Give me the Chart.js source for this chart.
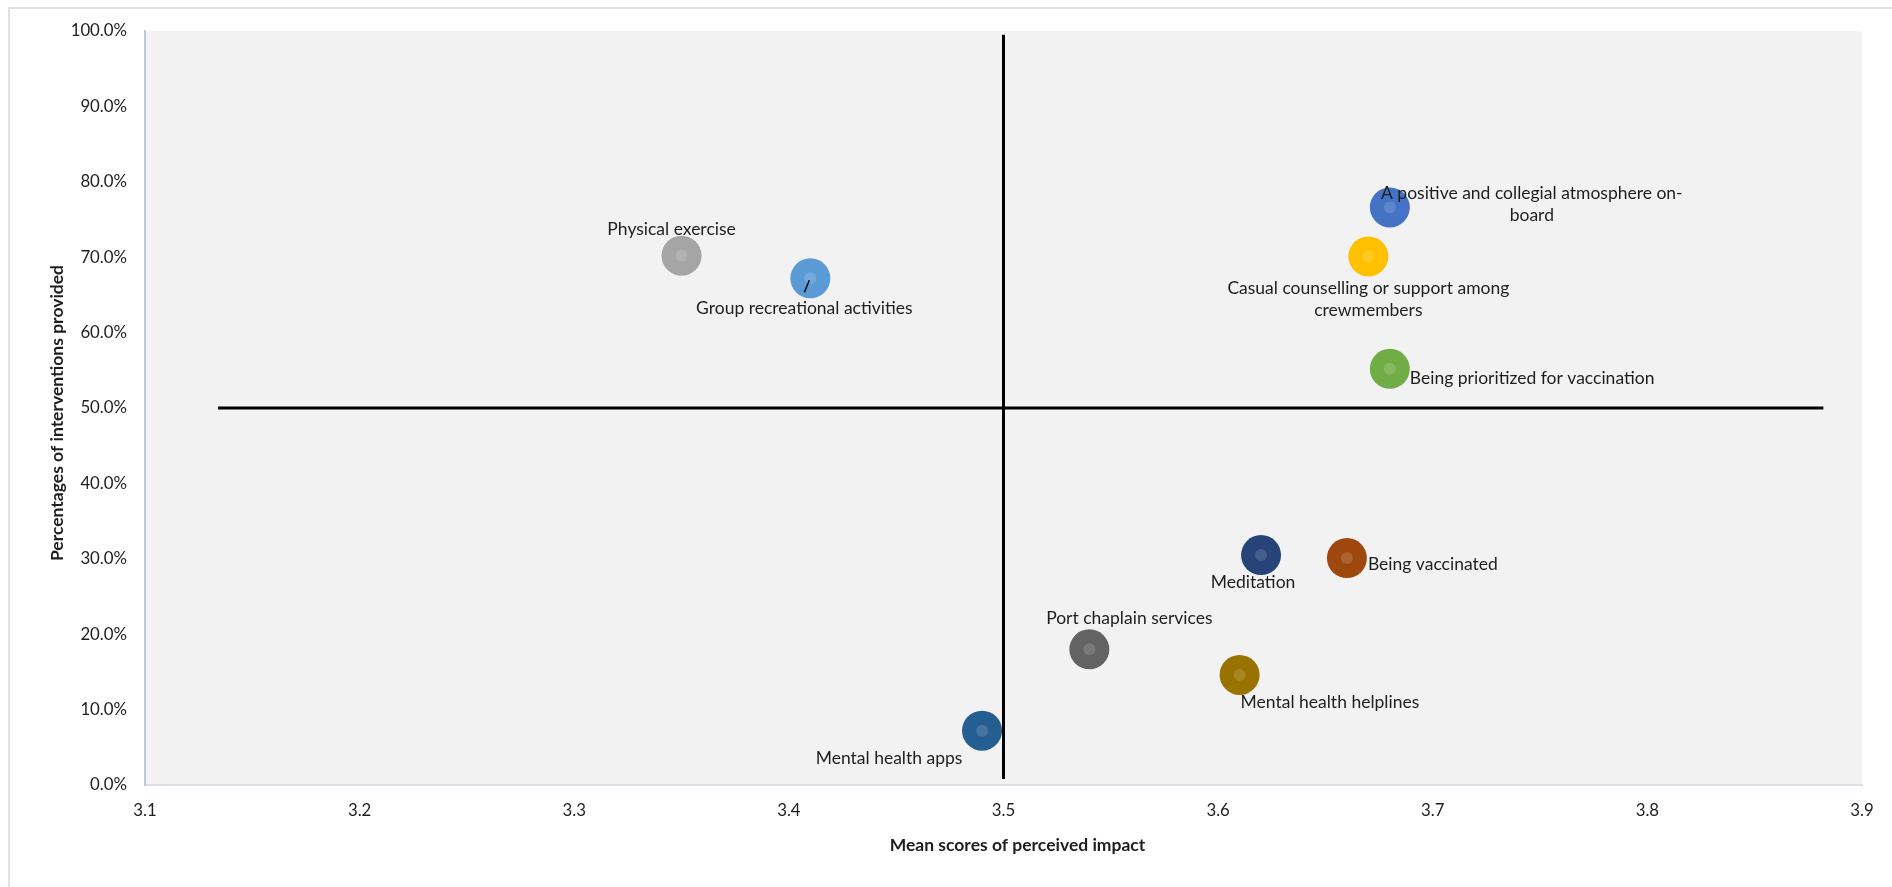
<!DOCTYPE html>
<html>
<head>
<meta charset="utf-8">
<title>Perceived impact vs interventions provided</title>
<script src="https://cdn.jsdelivr.net/npm/chart.js@4.4.1/dist/chart.umd.min.js"></script>
<style>
  html, body { margin: 0; padding: 0; background: #fff; overflow: hidden; }
  #frame {
    position: absolute; left: 8px; top: 7px; width: 1920px; height: 920px;
    border: 2px solid #dde2e8; box-sizing: border-box;
  }
  #chart { position: absolute; left: 0; top: 0; }
</style>
</head>
<body>
<div id="frame"></div>
<canvas id="chart" width="1892" height="887"></canvas>
<script>
  "use strict";

  // interventions (labels shown next to each bubble)
  const interventions = [
    "Physical exercise",
    "Group recreational activities",
    "A positive and collegial atmosphere on-\nboard",
    "Casual counselling or support among\ncrewmembers",
    "Being prioritized for vaccination",
    "Meditation",
    "Being vaccinated",
    "Port chaplain services",
    "Mental health helplines",
    "Mental health apps"
  ];
  // mean scores of perceived impact (x)
  const meanScores = [3.35, 3.41, 3.68, 3.67, 3.68, 3.62, 3.66, 3.54, 3.61, 3.49];
  // percentage of interventions provided (y)
  const pctProvided = [70.2, 67.2, 76.6, 70.1, 55.2, 30.5, 30.1, 18.0, 14.6, 7.2];

  // quadrant divider lines
  const vLineX = [3.5, 3.5];
  const vLineY = [0.8, 99.5];
  const hLineX = [3.134, 3.882];
  const hLineY = [50, 50];

  // axis ticks
  const xTicks = { min: 3.1, max: 3.9, step: 0.1 };
  const yTicks = { min: 0, max: 100, step: 10 };

  const bubbleColors = [
    "#a5a5a5", "#5b9bd5", "#4472c4", "#ffc000", "#70ad47",
    "#264478", "#9e480e", "#636363", "#997300", "#255e91"
  ];

  // where each label sits relative to its bubble: [dx, dy, align, leader]
  const labelPlace = [
    [-10, -26, "center"],
    [-6, 30, "center", true],
    [142, -14, "center"],
    [0, 32, "center"],
    [20, 10, "left"],
    [-8, 27, "center"],
    [21, 6, "left"],
    [40, -31, "center"],
    [1, 27, "left"],
    [-93, 28, "center"]
  ];

  const FONT = "Lato, 'Open Sans', sans-serif";
  const TEXT = "#1e1e1e";

  function lighten(hex, amt) {
    const n = parseInt(hex.slice(1), 16);
    const r = (n >> 16) & 255, g = (n >> 8) & 255, b = n & 255;
    const f = (c) => Math.round(c + (255 - c) * amt);
    return `rgb(${f(r)},${f(g)},${f(b)})`;
  }

  const points = meanScores.map((x, i) => ({ x, y: pctProvided[i] }));
  const toXY = (xs, ys) => xs.map((x, i) => ({ x, y: ys[i] }));

  const plotBg = {
    id: "plotBg",
    beforeDraw(chart) {
      const { ctx, chartArea: a } = chart;
      ctx.save();
      ctx.fillStyle = "#f2f2f2";
      ctx.fillRect(a.left, a.top, a.right - a.left, a.bottom - a.top);
      ctx.restore();
    }
  };

  const pointLabels = {
    id: "pointLabels",
    afterDatasetsDraw(chart) {
      const { ctx } = chart;
      const meta = chart.getDatasetMeta(0);
      ctx.save();
      ctx.font = `17.5px ${FONT}`;
      ctx.fillStyle = TEXT;
      ctx.textBaseline = "middle";
      meta.data.forEach((el, i) => {
        const [dx, dy, align, leader] = labelPlace[i];
        const lines = interventions[i].split("\n");
        ctx.textAlign = align;
        lines.forEach((line, k) => {
          ctx.fillText(line, el.x + dx, el.y + dy + k * 22);
        });
        if (leader) {
          ctx.strokeStyle = "#000";
          ctx.lineWidth = 1.5;
          ctx.beginPath();
          ctx.moveTo(el.x - 6, el.y + 14);
          ctx.lineTo(el.x - 1, el.y + 2);
          ctx.stroke();
        }
      });
      ctx.restore();
    }
  };

  const axisTitles = {
    id: "axisTitles",
    afterDraw(chart) {
      const { ctx, chartArea: a } = chart;
      ctx.save();
      ctx.font = `bold 17.5px ${FONT}`;
      ctx.fillStyle = TEXT;
      ctx.textAlign = "center";
      ctx.textBaseline = "middle";
      ctx.fillText("Mean scores of perceived impact", (a.left + a.right) / 2 + 14, 845);
      ctx.translate(57, (a.top + a.bottom) / 2 + 5);
      ctx.rotate(-Math.PI / 2);
      ctx.fillText("Percentages of interventions provided", 0, 0);
      ctx.restore();
    }
  };

  new Chart(document.getElementById("chart"), {
    type: "scatter",
    data: {
      datasets: [
        {
          label: "Interventions",
          data: points,
          pointRadius: 20,
          pointHoverRadius: 20,
          backgroundColor: bubbleColors,
          borderWidth: 0,
          order: 3
        },
        {
          label: "centres",
          data: points,
          pointRadius: 6,
          pointHoverRadius: 6,
          backgroundColor: bubbleColors.map((c) => lighten(c, 0.14)),
          borderWidth: 0,
          order: 2
        },
        {
          type: "line",
          label: "vertical",
          data: toXY(vLineX, vLineY),
          borderColor: "#000",
          borderWidth: 3,
          pointRadius: 0,
          order: 1
        },
        {
          type: "line",
          label: "horizontal",
          data: toXY(hLineX, hLineY),
          borderColor: "#000",
          borderWidth: 3,
          pointRadius: 0,
          order: 1
        }
      ]
    },
    options: {
      responsive: false,
      animation: false,
      devicePixelRatio: 1,
      layout: { padding: { left: 0, top: 31, right: 30, bottom: 0 } },
      plugins: {
        legend: { display: false },
        tooltip: { enabled: false }
      },
      scales: {
        x: {
          type: "linear",
          min: xTicks.min,
          max: xTicks.max,
          afterFit: (s) => { s.height = 102; },
          grid: { display: false, drawTicks: false },
          border: { display: true, color: "#dbe0e6", width: 2 },
          ticks: {
            stepSize: xTicks.step,
            padding: 16,
            color: TEXT,
            font: { family: FONT, size: 16.8 },
            callback: (v) => Number(v).toFixed(1)
          }
        },
        y: {
          type: "linear",
          min: yTicks.min,
          max: yTicks.max,
          afterFit: (s) => { s.width = 145; },
          grid: { display: false, drawTicks: false },
          border: { display: true, color: "#bfcad6", width: 2 },
          ticks: {
            stepSize: yTicks.step,
            padding: 18,
            color: TEXT,
            font: { family: FONT, size: 16.8 },
            callback: (v) => Number(v).toFixed(1) + "%"
          }
        }
      }
    },
    plugins: [plotBg, pointLabels, axisTitles]
  });
</script>
</body>
</html>
